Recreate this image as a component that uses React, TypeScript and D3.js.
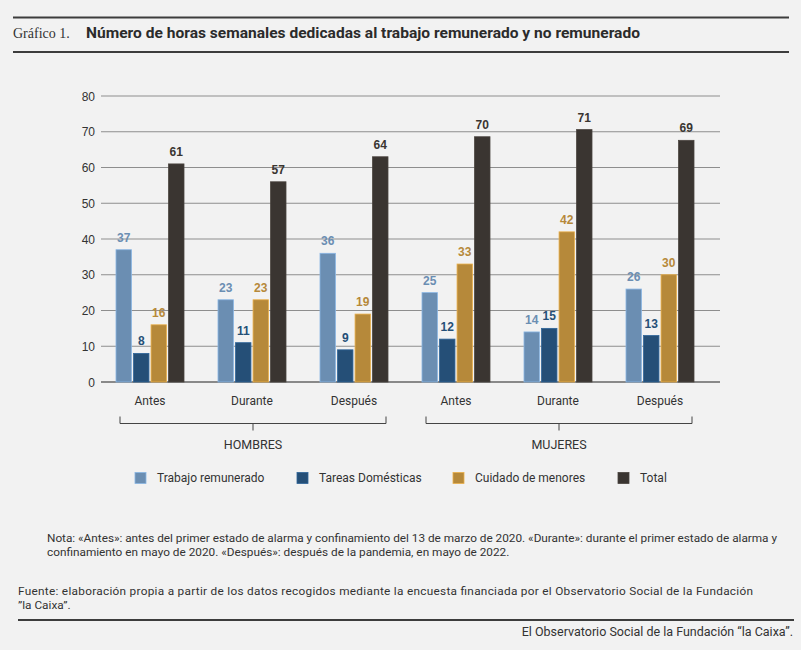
import React from 'react';
import * as d3 from 'd3';

const periods = ['Antes', 'Durante', 'Después'];
const groups = ['HOMBRES', 'MUJERES'];
const seriesNames = ['Trabajo remunerado', 'Tareas Domésticas', 'Cuidado de menores', 'Total'];
const seriesColors = ['#6b8eb2', '#254f77', '#b6893a', '#3a3531'];

// one value per column: Hombres Antes, Durante, Después, Mujeres Antes, Durante, Después
const trabajo = [37, 23, 36, 25, 14, 26];
const tareas = [8, 11, 9, 12, 15, 13];
const cuidado = [16, 23, 19, 33, 42, 30];
// the total bars are drawn a little shorter than their printed labels
const totalBars = [61, 56, 63, 68.6, 70.6, 67.6];
const totalLabels = [61, 57, 64, 70, 71, 69];

const yTicks = [0, 10, 20, 30, 40, 50, 60, 70, 80];

const title = 'Número de horas semanales dedicadas al trabajo remunerado y no remunerado';
const notaLines = [
    'Nota: «Antes»: antes del primer estado de alarma y confinamiento del 13 de marzo de 2020. «Durante»: durante el primer estado de alarma y',
    'confinamiento en mayo de 2020. «Después»: después de la pandemia, en mayo de 2022.',
];
const fuenteLines = [
    'Fuente: elaboración propia a partir de los datos recogidos mediante la encuesta financiada por el Observatorio Social de la Fundación',
    '”la Caixa”.',
];
const footer = 'El Observatorio Social de la Fundación “la Caixa”.';

const W = 801;
const H = 650;
const textColor = '#333';
const cond = "Roboto, 'Liberation Sans', sans-serif";
const arial = "'Liberation Sans', Arial, sans-serif";

const App: React.FC = () => {
    const columns = groups.flatMap(g => periods.map(p => `${g}-${p}`));
    const values = [trabajo, tareas, cuidado, totalBars];
    const labels = [trabajo, tareas, cuidado, totalLabels];

    const y = d3.scaleLinear().domain([0, 80]).range([382, 96]);
    const x = d3.scaleBand().domain(columns).range([99, 711]);
    const center = (c: string) => x(c)! + x.bandwidth() / 2;
    const gridLeft = 101;
    const gridRight = 720;

    const inner = d3
        .scaleBand()
        .domain(seriesNames)
        .range([0, 68])
        .paddingInner(0.12);

    const groupSpans = groups.map((g, gi) => ({
        g,
        x0: center(columns[gi * 3]) - 30,
        x1: center(columns[gi * 3 + 2]) + 32,
    }));

    const legendX = [135, 297, 453, 618];

    return (
        <svg
            width={W}
            height={H}
            style={{ position: 'absolute', left: 0, top: 0, background: '#f2f2f2' }}
        >
            <rect x={0} y={0} width={W} height={H} fill="#f2f2f2" />

            {/* header */}
            <line x1={13} x2={789} y1={17.5} y2={17.5} stroke="#3d3d3d" strokeWidth={2} />
            <text x={13} y={38} fontFamily="'Liberation Serif', serif" fontSize={14} fill={textColor}>
                Gráfico 1.
            </text>
            <text
                x={86}
                y={38}
                fontFamily={cond}
                fontWeight="bold"
                fontSize={14}
                fill="#2b2b2b"
                textLength={554}
                lengthAdjust="spacingAndGlyphs"
            >
                {title}
            </text>
            <line x1={13} x2={789} y1={52} y2={52} stroke="#3d3d3d" strokeWidth={2} />

            {/* grid + y axis */}
            {yTicks.map(t => (
                <g key={t}>
                    <line
                        x1={gridLeft}
                        x2={gridRight}
                        y1={y(t)}
                        y2={y(t)}
                        stroke={t === 0 ? '#666' : '#8e8e8e'}
                        strokeWidth={t === 0 ? 1.6 : 1}
                    />
                    <text
                        x={95}
                        y={y(t) + 4.5}
                        textAnchor="end"
                        fontFamily={arial}
                        fontSize={12}
                        fill={textColor}
                    >
                        {t}
                    </text>
                </g>
            ))}

            {/* bars */}
            {columns.map((c, ci) => {
                const cx = center(c);
                const left = cx - 34;
                return (
                    <g key={c}>
                        {seriesNames.map((s, si) => {
                            const v = values[si][ci];
                            const bx = left + inner(s)!;
                            const fill = seriesColors[si];
                            return (
                                <g key={s}>
                                    <rect
                                        x={bx}
                                        y={y(v)}
                                        width={inner.bandwidth()}
                                        height={y(0) - y(v)}
                                        fill={fill}
                                        stroke={d3.color(fill)!.brighter(0.7).formatHex()}
                                        strokeWidth={0.8}
                                    />
                                    <text
                                        x={bx + inner.bandwidth() / 2}
                                        y={y(v) - 8}
                                        textAnchor="middle"
                                        fontFamily={arial}
                                        fontWeight="bold"
                                        fontSize={12}
                                        fill={fill}
                                    >
                                        {labels[si][ci]}
                                    </text>
                                </g>
                            );
                        })}
                        <text
                            x={cx}
                            y={405}
                            textAnchor="middle"
                            fontFamily={cond}
                            fontSize={12}
                            fill={textColor}
                        >
                            {periods[ci % 3]}
                        </text>
                    </g>
                );
            })}

            {/* group brackets */}
            {groupSpans.map(({ g, x0, x1 }) => {
                const mid = (x0 + x1) / 2;
                return (
                    <g key={g}>
                        <path
                            d={`M${x0},416.5 V423.5 H${x1} V416.5 M${mid},423.5 V430.5`}
                            fill="none"
                            stroke="#444"
                            strokeWidth={1}
                        />
                        <text
                            x={mid}
                            y={449}
                            textAnchor="middle"
                            fontFamily={cond}
                            fontSize={12.5}
                            fill={textColor}
                        >
                            {g}
                        </text>
                    </g>
                );
            })}

            {/* legend */}
            {seriesNames.map((s, si) => (
                <g key={s} transform={`translate(${legendX[si]},472.5)`}>
                    <rect
                        width={11}
                        height={11}
                        fill={seriesColors[si]}
                        stroke={d3.color(seriesColors[si])!.brighter(0.7).formatHex()}
                        strokeWidth={0.8}
                    />
                    <text x={22} y={9.5} fontFamily={cond} fontSize={12} fill={textColor}>
                        {s}
                    </text>
                </g>
            ))}

            {/* notes */}
            {notaLines.map((l, i) => (
                <text
                    key={l}
                    x={47}
                    y={542 + i * 14}
                    fontFamily={cond}
                    fontSize={11.8}
                    fill={textColor}
                    textLength={i === 0 ? 730 : undefined}
                >
                    {l}
                </text>
            ))}
            {fuenteLines.map((l, i) => (
                <text
                    key={l}
                    x={18}
                    y={595 + i * 14}
                    fontFamily={cond}
                    fontSize={11.8}
                    fill={textColor}
                    textLength={i === 0 ? 735 : undefined}
                >
                    {l}
                </text>
            ))}
            <line x1={18} x2={794} y1={620} y2={620} stroke="#3d3d3d" strokeWidth={2} />
            <text x={793} y={636} textAnchor="end" fontFamily={cond} fontSize={12.5} fill={textColor}>
                {footer}
            </text>
        </svg>
    );
};

export default App;
